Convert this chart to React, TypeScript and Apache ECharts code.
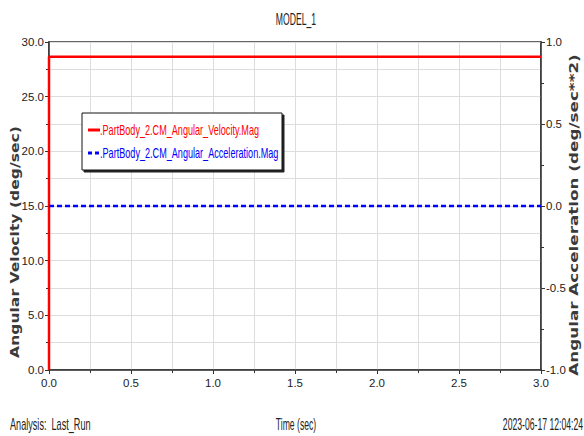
import React, { useEffect, useRef } from "react";
import * as echarts from "echarts";

const title = "MODEL_1";
const velocityName = ".PartBody_2.CM_Angular_Velocity.Mag";
const accelName = ".PartBody_2.CM_Angular_Acceleration.Mag";
const velocityData: [number, number][] = [
  [0, 0],
  [0, 28.65],
  [3, 28.65],
];
const accelData: [number, number][] = [
  [0, 0],
  [3, 0],
];
const leftAxisName = "Angular Velocity (deg/sec)";
const rightAxisName = "Angular Acceleration (deg/sec**2)";
const xAxisName = "Time (sec)";
const footerLeft = "Analysis:  Last_Run";
const footerRight = "2023-06-17 12:04:24";

const FONT = "'Liberation Sans', Arial, sans-serif";

function narrowText(text: string, x: number, y: number, align: string, color = "#222", size = 16, nx = 0.54, z = 10) {
  return {
    type: "text",
    x,
    y,
    z,
    scaleX: nx,
    style: { text, fontFamily: FONT, fontSize: size, fill: color, align, verticalAlign: "middle" },
  };
}

function axisTitle(text: string, x: number, y: number, sx: number) {
  return {
    type: "text",
    z: 10,
    x,
    y,
    rotation: Math.PI / 2,
    scaleX: sx,
    style: {
      text,
      fontFamily: "'DejaVu Sans', sans-serif",
      fontWeight: "bold",
      fontSize: 12,
      fill: "#3a3a3a",
      align: "center",
      verticalAlign: "middle",
    },
  };
}

export default function App() {
  const ref = useRef<HTMLDivElement>(null);
  useEffect(() => {
    if (!ref.current) return;
    const chart = echarts.init(ref.current, null, { renderer: "svg" });
    const axisLine = { show: true, lineStyle: { color: "#333", width: 1.5 } };
    const labelStyle = { color: "#222", fontFamily: FONT, fontSize: 11.5 };
    chart.setOption({
      animation: false,
      backgroundColor: "#fff",
      grid: {
        left: 49,
        right: 43,
        top: 42,
        bottom: 66,
        show: true,
        borderColor: "#333",
        borderWidth: 1.5,
        backgroundColor: "transparent",
      },
      xAxis: {
        type: "value",
        min: 0,
        max: 3,
        interval: 0.5,
        axisLine,
        axisTick: { show: true, length: 4, lineStyle: { color: "#333" } },
        minorTick: { show: true, splitNumber: 2, length: 3, lineStyle: { color: "#333" } },
        splitLine: { show: true, lineStyle: { color: "#ddd", width: 1 } },
        minorSplitLine: { show: true, lineStyle: { color: "#ddd", width: 1 } },
        axisLabel: { ...labelStyle, margin: 7, formatter: (v: number) => v.toFixed(1) },
      },
      yAxis: [
        {
          type: "value",
          min: 0,
          max: 30,
          interval: 5,
          position: "left",
          axisLine,
          axisTick: { show: true, length: 4, lineStyle: { color: "#333" } },
          minorTick: { show: true, splitNumber: 2, length: 3, lineStyle: { color: "#333" } },
          splitLine: { show: true, lineStyle: { color: "#ddd", width: 1 } },
          minorSplitLine: { show: true, lineStyle: { color: "#ddd", width: 1 } },
          axisLabel: { ...labelStyle, margin: 5, formatter: (v: number) => v.toFixed(1) },
        },
        {
          type: "value",
          min: -1,
          max: 1,
          interval: 0.5,
          position: "right",
          axisLine,
          axisTick: { show: true, length: 4, lineStyle: { color: "#333" } },
          minorTick: { show: true, splitNumber: 2, length: 3, lineStyle: { color: "#333" } },
          splitLine: { show: false },
          axisLabel: { ...labelStyle, margin: 5, formatter: (v: number) => v.toFixed(1) },
        },
      ],
      legend: { show: false, data: [velocityName, accelName] },
      series: [
        {
          name: velocityName,
          type: "line",
          yAxisIndex: 0,
          data: velocityData,
          symbol: "none",
          lineStyle: { color: "#ff0000", width: 2.5 },
          itemStyle: { color: "#ff0000" },
          z: 5,
        },
        {
          name: accelName,
          type: "line",
          yAxisIndex: 1,
          data: accelData,
          symbol: "none",
          lineStyle: { color: "#0000ff", width: 2.5, type: [5, 3] },
          itemStyle: { color: "#0000ff" },
          z: 5,
        },
      ],
      graphic: [
        narrowText(title, 296, 19, "center", "#222", 16, 0.54),
        {
          type: "rect",
          z: 10,
          shape: { x: 82, y: 113, width: 200, height: 57 },
          style: {
            fill: "#fff",
            stroke: "#111",
            lineWidth: 1,
            shadowColor: "#222",
            shadowOffsetX: 2,
            shadowOffsetY: 2,
            shadowBlur: 0,
          },
        },
        {
          type: "line",
          z: 11,
          shape: { x1: 88, y1: 130, x2: 100, y2: 130 },
          style: { stroke: "#ff0000", lineWidth: 3 },
        },
        {
          type: "line",
          z: 11,
          shape: { x1: 88, y1: 153, x2: 100, y2: 153 },
          style: { stroke: "#0000ff", lineWidth: 3, lineDash: [4, 3] },
        },
        narrowText(velocityName, 100, 130, "left", "#ff0000", 14, 0.65, 11),
        narrowText(accelName, 100, 153, "left", "#0000ff", 14, 0.65, 11),
        axisTitle(leftAxisName, 15, 242, 1.3),
        axisTitle(rightAxisName, 573, 215, 1.4),
        narrowText(footerLeft, 10, 424, "left", "#222", 16, 0.57),
        narrowText(xAxisName, 296, 424, "center"),
        narrowText(footerRight, 583, 424, "right"),
      ],
    });
    return () => chart.dispose();
  }, []);
  return <div ref={ref} style={{ width: 584, height: 436, position: "absolute", left: 0, top: 0 }} />;
}
